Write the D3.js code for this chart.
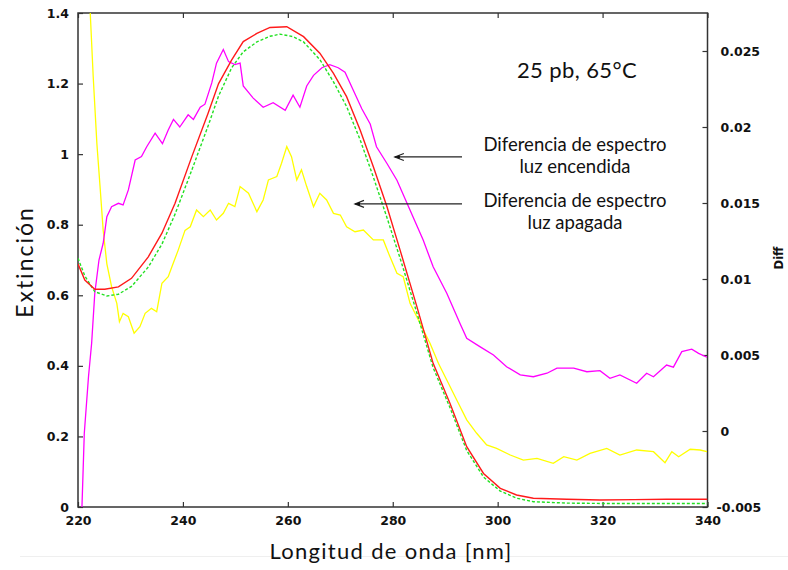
<!DOCTYPE html>
<html>
<head>
<meta charset="utf-8">
<script src="https://cdn.jsdelivr.net/npm/d3@7"></script>
<style>
  html, body { margin: 0; padding: 0; background: #fff; }
  svg { display: block; }
  .tick text { font-family: "DejaVu Sans", sans-serif; font-weight: bold; font-size: 12.5px; fill: #111; }
  .tick line { stroke: #333; stroke-width: 1.2; }
  .note { font-family: Lato, "Open Sans", sans-serif; fill: #111; }
</style>
</head>
<body>
<svg id="chart" width="788" height="570"></svg>
<script>
// Wavelength ticks (nm) and axis tick values
const xTicks = [220, 240, 260, 280, 300, 320, 340];
const xTickLabels = ["220", "240", "260", "280", "300", "320", "340"];
const yLeftTicks = [0, 0.2, 0.4, 0.6, 0.8, 1, 1.2, 1.4];
const yLeftTickLabels = ["0", "0.2", "0.4", "0.6", "0.8", "1", "1.2", "1.4"];
const yRightTicks = [-0.005, 0, 0.005, 0.01, 0.015, 0.02, 0.025];
const yRightTickLabels = ["-0.005", "0", "0.005", "0.01", "0.015", "0.02", "0.025"];

// Extinction spectrum, light on (red) — [nm, extinction]
const specOn = [
  [220.0,0.689],[221.3,0.643],[223.2,0.617],[225.1,0.617],[227.7,0.624],[230.2,0.648],
  [233.4,0.709],[236.0,0.776],[238.5,0.861],[241.7,0.993],[244.8,1.116],[246.8,1.200],
  [249.3,1.267],[251.5,1.319],[254.1,1.342],[256.6,1.359],[259.8,1.361],[263.0,1.333],
  [266.1,1.286],[268.7,1.229],[271.2,1.163],[273.8,1.068],[276.3,0.964],[278.9,0.851],
  [281.4,0.728],[284.6,0.568],[287.7,0.407],[290.9,0.294],[294.1,0.171],[297.3,0.095],
  [300.5,0.053],[303.6,0.034],[306.8,0.025],[313.2,0.022],[319.5,0.020],[326.0,0.021],
  [332.2,0.022],[340.0,0.022]
];

// Extinction spectrum, light off (green, dashed) — [nm, extinction]
const specOff = [
  [220.0,0.705],[221.3,0.655],[223.2,0.610],[225.5,0.598],[227.7,0.603],[230.2,0.625],
  [233.4,0.680],[236.0,0.745],[238.5,0.830],[241.7,0.955],[244.8,1.080],[246.8,1.165],
  [249.3,1.245],[251.5,1.290],[254.1,1.318],[256.6,1.334],[258.5,1.340],[261.0,1.333],
  [263.0,1.318],[266.1,1.268],[268.7,1.205],[271.2,1.135],[273.8,1.040],[276.3,0.935],
  [278.9,0.820],[281.4,0.705],[284.6,0.550],[287.7,0.395],[290.9,0.282],[294.1,0.160],
  [297.3,0.085],[300.5,0.045],[303.6,0.025],[306.8,0.015],[313.2,0.011],[320.0,0.010],
  [330.0,0.010],[340.0,0.010]
];

// Difference spectrum, light on (magenta, right axis) — [nm, diff]
const diffOn = [
  [220.7,-0.0056],[221.2,-0.00015],[222.0,0.00357],[222.6,0.00577],[223.2,0.00906],[224.0,0.01125],
  [224.8,0.01235],[225.5,0.0141],[226.4,0.01476],[227.7,0.01498],[228.6,0.01487],[229.6,0.01586],
  [230.9,0.01783],[232.1,0.01805],[233.1,0.0187],[234.7,0.0196],[236.1,0.0189],[237.2,0.0198],
  [238.2,0.0205],[239.4,0.0200],[241.0,0.0208],[242.0,0.0205],[243.3,0.0213],[244.2,0.0215],
  [245.5,0.0229],[246.4,0.0242],[247.7,0.0251],[248.7,0.0243],[249.9,0.0241],[250.9,0.0242],
  [251.5,0.0227],[253.4,0.0219],[255.3,0.0213],[257.2,0.0216],[259.5,0.0211],[261.0,0.0221],
  [262.3,0.0213],[263.6,0.0227],[264.9,0.0234],[266.5,0.0239],[268.0,0.0241],[269.6,0.0239],
  [270.9,0.0236],[272.5,0.0224],[274.1,0.0212],[275.7,0.0202],[276.9,0.0187],[278.9,0.0176],
  [280.8,0.0165],[282.7,0.0150],[285.8,0.01257],[287.7,0.0108],[290.3,0.00906],[292.8,0.00709],
  [294.1,0.0061],[296.6,0.00555],[299.2,0.0050],[301.7,0.00423],[304.3,0.00369],[306.8,0.00357],
  [309.4,0.0038],[311.3,0.00413],[314.5,0.00413],[317.0,0.0039],[319.5,0.00397],[321.4,0.00347],
  [323.3,0.00369],[326.5,0.00314],[328.4,0.0038],[329.7,0.00357],[332.2,0.00434],[333.5,0.0042],
  [335.1,0.00522],[337.0,0.00538],[338.3,0.00511],[339.9,0.00485]
];

// Difference spectrum, light off (yellow, right axis) — [nm, diff]
const diffOff = [
  [222.2,0.0285],[222.9,0.0233],[223.6,0.0189],[224.2,0.0161],[224.8,0.0132],[225.5,0.0110],
  [226.4,0.0095],[227.4,0.0084],[227.9,0.00719],[228.6,0.00774],[229.6,0.00752],[230.7,0.00643],
  [231.8,0.00686],[232.8,0.00774],[234.0,0.00807],[235.0,0.00785],[236.0,0.00972],[237.2,0.01015],
  [237.9,0.01081],[239.1,0.0119],[240.4,0.0132],[241.4,0.01344],[242.6,0.01454],[243.9,0.0141],
  [245.2,0.01454],[246.4,0.01388],[247.7,0.01432],[248.7,0.01498],[249.9,0.01476],[250.9,0.01608],
  [252.5,0.01564],[254.1,0.01443],[255.3,0.0152],[256.3,0.01652],[257.9,0.01674],[258.8,0.01762],
  [259.8,0.01871],[260.7,0.01805],[261.7,0.01652],[262.6,0.01718],[263.6,0.01608],[264.9,0.01476],
  [266.1,0.01564],[267.4,0.0152],[268.7,0.01432],[270.0,0.01421],[271.2,0.01344],[272.8,0.01311],
  [274.4,0.01322],[276.3,0.01257],[278.2,0.01257],[279.2,0.01169],[280.8,0.01038],[282.0,0.01015],
  [283.3,0.0084],[285.2,0.00709],[287.1,0.00577],[288.7,0.00446],[290.3,0.00336],[292.2,0.00204],
  [294.1,0.00073],[296.0,-0.00015],[297.9,-0.00092],[299.8,-0.00114],[302.4,-0.00158],[304.9,-0.00191],
  [307.5,-0.0018],[310.6,-0.00213],[312.6,-0.00169],[315.1,-0.00191],[317.6,-0.00147],[320.8,-0.00114],
  [323.3,-0.00158],[326.5,-0.00125],[329.7,-0.00136],[331.9,-0.00208],[333.2,-0.00136],[334.5,-0.00169],
  [336.7,-0.0012],[338.6,-0.00125],[339.9,-0.00136]
];

// Annotation arrows in data units: [x from, x to, extinction level]
const arrowOn = [293.2, 280.4, 0.992];
const arrowOff = [293.2, 272.8, 0.859];

const svg = d3.select("#chart");
const plot = { left: 78, right: 707.5, top: 13, bottom: 507 };

const x = d3.scaleLinear().domain([220, 340]).range([plot.left, plot.right]);
const yL = d3.scaleLinear().domain([0, 1.4]).range([plot.bottom, plot.top]);
const yR = d3.scaleLinear().domain([-0.005, 0.0275]).range([plot.bottom, plot.top]);

// faint rule below the chart
svg.append("line").attr("x1", 20).attr("x2", 788).attr("y1", 556.5).attr("y2", 556.5)
  .attr("stroke", "#efefef").attr("stroke-width", 1);

const defs = svg.append("defs");
defs.append("clipPath").attr("id", "plotClip")
  .append("rect").attr("x", plot.left).attr("y", plot.top)
  .attr("width", plot.right - plot.left).attr("height", plot.bottom - plot.top);

// arrowhead: tip at the end of the line, barbs trailing behind
const marker = defs.append("marker")
  .attr("id", "arrowHead").attr("viewBox", "-10 -6 12 12")
  .attr("refX", 0).attr("refY", 0).attr("markerWidth", 12).attr("markerHeight", 12)
  .attr("markerUnits", "userSpaceOnUse").attr("orient", "auto");
marker.append("path").attr("d", "M-9,-3.5 L0,0 L-9,3.5").attr("fill", "none")
  .attr("stroke", "#222").attr("stroke-width", 1.2);
marker.append("path").attr("d", "M0,0 L-5,-1.8 L-5,1.8Z").attr("fill", "#111");

// axes with inward ticks
const fmt = (ticks, labels) => d => labels[ticks.indexOf(d)];

svg.append("g").attr("transform", `translate(0,${plot.bottom})`)
  .call(d3.axisBottom(x).tickValues(xTicks).tickFormat(fmt(xTicks, xTickLabels)).tickSize(-5).tickPadding(9))
  .call(g => g.select(".domain").remove());

svg.append("g").attr("transform", `translate(0,${plot.top})`)
  .call(d3.axisTop(x).tickValues(xTicks).tickFormat("").tickSize(-5))
  .call(g => g.select(".domain").remove());

svg.append("g").attr("transform", `translate(${plot.left},0)`)
  .call(d3.axisLeft(yL).tickValues(yLeftTicks).tickFormat(fmt(yLeftTicks, yLeftTickLabels)).tickSize(-5).tickPadding(9))
  .call(g => g.select(".domain").remove());

svg.append("g").attr("transform", `translate(${plot.right},0)`)
  .call(d3.axisRight(yR).tickValues(yRightTicks).tickFormat(fmt(yRightTicks, yRightTickLabels)).tickSize(-5).tickPadding(13))
  .call(g => g.select(".domain").remove())
  .call(g => g.selectAll(".tick text").attr("dx", d => d < 0 ? -4 : 0));

// frame
svg.append("rect").attr("x", plot.left).attr("y", plot.top)
  .attr("width", plot.right - plot.left).attr("height", plot.bottom - plot.top)
  .attr("fill", "none").attr("stroke", "#333").attr("stroke-width", 1.5);

// curves
const lineL = d3.line().x(d => x(d[0])).y(d => yL(d[1]));
const lineR = d3.line().x(d => x(d[0])).y(d => yR(d[1]));
const curves = svg.append("g").attr("clip-path", "url(#plotClip)");

curves.append("path").datum(diffOff).attr("d", lineR)
  .attr("fill", "none").attr("stroke", "#ffff00").attr("stroke-width", 1.3);
curves.append("path").datum(diffOn).attr("d", lineR)
  .attr("fill", "none").attr("stroke", "#ff00ff").attr("stroke-width", 1.3);
curves.append("path").datum(specOff).attr("d", lineL)
  .attr("fill", "none").attr("stroke", "#22e022").attr("stroke-width", 1.4).attr("stroke-dasharray", "3,2");
curves.append("path").datum(specOn).attr("d", lineL)
  .attr("fill", "none").attr("stroke", "#ff1a1a").attr("stroke-width", 1.4);

// arrows
[arrowOn, arrowOff].forEach(a => {
  svg.append("line")
    .attr("x1", x(a[0])).attr("x2", x(a[1]))
    .attr("y1", yL(a[2])).attr("y2", yL(a[2]))
    .attr("stroke", "#222").attr("stroke-width", 1.3)
    .attr("marker-end", "url(#arrowHead)");
});

// annotations
svg.append("text").attr("class", "note").attr("x", 577).attr("y", 78)
  .attr("text-anchor", "middle").attr("font-size", 22).attr("letter-spacing", 0.4).text("25 pb, 65°C");

const notes = [
  ["Diferencia de espectro", 151], ["luz encendida", 173],
  ["Diferencia de espectro", 207], ["luz apagada", 229]
];
notes.forEach(n => {
  svg.append("text").attr("class", "note").attr("x", 575).attr("y", n[1])
    .attr("text-anchor", "middle").attr("font-size", 18.5).text(n[0]);
});

// axis titles
svg.append("text").attr("class", "note").attr("x", 391).attr("y", 559)
  .attr("text-anchor", "middle").attr("font-size", 22).attr("letter-spacing", 1.3)
  .text("Longitud de onda [nm]");

svg.append("text").attr("class", "note")
  .attr("transform", "translate(33,262) rotate(-90)")
  .attr("text-anchor", "middle").attr("font-size", 23).attr("letter-spacing", 2)
  .text("Extinción");

svg.append("text")
  .attr("transform", "translate(783,258) rotate(-90)")
  .attr("text-anchor", "middle").attr("font-family", "DejaVu Sans, sans-serif")
  .attr("font-weight", "bold").attr("font-size", 11.5).attr("fill", "#111").text("Diff");
</script>
</body>
</html>
